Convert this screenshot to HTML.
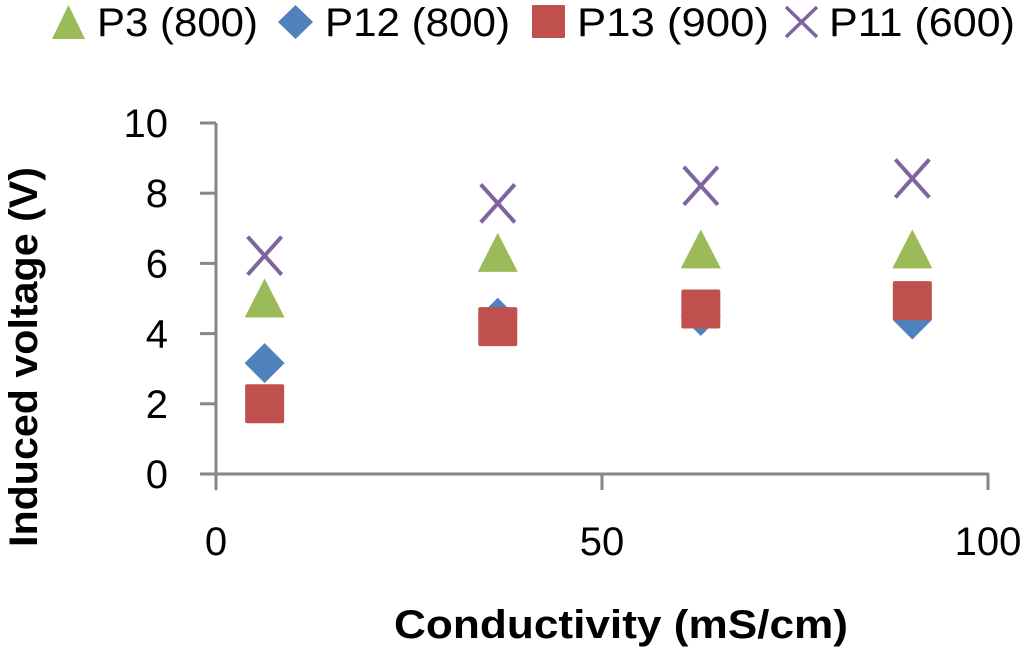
<!DOCTYPE html>
<html><head><meta charset="utf-8"><style>
html,body{margin:0;padding:0;background:#fff;width:1024px;height:652px;overflow:hidden}
svg{display:block;font-family:"Liberation Sans",sans-serif}
</style></head><body>
<svg id="chart" width="1024" height="652" viewBox="0 0 1024 652" xmlns="http://www.w3.org/2000/svg">
<g id="legend">
  <g>
    <polygon points="68.5,5 52,39 85,39" fill="#9bbb59"/>
    <text x="97" y="36" font-size="40" textLength="161" lengthAdjust="spacingAndGlyphs">P3 (800)</text>
  </g>
  <g>
    <polygon points="295.5,5 313,22 295.5,39 278,22" fill="#4f81bd"/>
    <text x="325" y="36" font-size="40" textLength="185" lengthAdjust="spacingAndGlyphs">P12 (800)</text>
  </g>
  <g>
    <rect x="532" y="5" width="33" height="33" rx="1" fill="#c0504d"/>
    <text x="577" y="36" font-size="40" textLength="192" lengthAdjust="spacingAndGlyphs">P13 (900)</text>
  </g>
  <g>
    <path d="M786,7 L817,37 M817,7 L786,37" stroke="#8064a2" stroke-width="3.5"/>
    <text x="829" y="36" font-size="40" textLength="186" lengthAdjust="spacingAndGlyphs">P11 (600)</text>
  </g>
</g>
<g id="axes"></g>
<g id="marks"></g>
<text transform="translate(37,357) rotate(-90)" text-anchor="middle" font-size="40" font-weight="bold" textLength="380" lengthAdjust="spacingAndGlyphs">Induced voltage (V)</text>
<text x="621" y="638" text-anchor="middle" font-size="40" font-weight="bold" textLength="454" lengthAdjust="spacingAndGlyphs">Conductivity (mS/cm)</text>
</svg>
<script>
const xValues = [6.3, 36.5, 62.8, 90.2];
const p3 = [5.0, 6.3, 6.4, 6.4];
const p12 = [3.16, 4.45, 4.5, 4.4];
const p13 = [2.0, 4.2, 4.7, 4.94];
const p11 = [6.22, 7.71, 8.21, 8.42];
const yTicks = [0, 2, 4, 6, 8, 10];
const xTicks = [0, 50, 100];

const NS = "http://www.w3.org/2000/svg";
const X0 = 216, X1 = 988, Y0 = 474, Y1 = 123;
function xs(v){ return X0 + (v - 0) / 100 * (X1 - X0); }
function ys(v){ return Y0 - (v - 0) / 10 * (Y0 - Y1); }
function mk(tag, attrs){ const e = document.createElementNS(NS, tag); for (const k in attrs) e.setAttribute(k, attrs[k]); return e; }
const axes = document.getElementById('axes');
const marks = document.getElementById('marks');
const grey = "#868686";

const yl = mk('line', {x1:X0, y1:Y1, x2:X0, y2:Y0, stroke:grey, 'stroke-width':3});


axes.appendChild(yl);
const xl = mk('line', {x1:X0-16, y1:Y0, x2:X1+1, y2:Y0, stroke:grey, 'stroke-width':3});


axes.appendChild(xl);

yTicks.forEach(t => {
  const y = ys(t);
  const tk = mk('line', {x1:X0-16, y1:y, x2:X0, y2:y, stroke:grey, 'stroke-width':3});
  
  
  axes.appendChild(tk);
  const tx = mk('text', {x:168, y:y+14, 'text-anchor':'end', 'font-size':40});
  tx.textContent = t;
  
  
  axes.appendChild(tx);
});
xTicks.forEach(t => {
  const x = xs(t);
  const tk = mk('line', {x1:x, y1:Y0, x2:x, y2:Y0+16, stroke:grey, 'stroke-width':3});
  
  
  axes.appendChild(tk);
  const tx = mk('text', {x:x, y:555, 'text-anchor':'middle', 'font-size':40});
  tx.textContent = t;
  
  
  axes.appendChild(tx);
});

xValues.forEach((xv, i) => {
  const cx = xs(xv), cy = ys(p3[i]);
  const m = mk('polygon', {points:`${cx},${cy-20} ${cx-20},${cy+19} ${cx+20},${cy+19}`, fill:'#9bbb59'});
  
  
  marks.appendChild(m);
});
xValues.forEach((xv, i) => {
  const cx = xs(xv), cy = ys(p12[i]);
  const m = mk('polygon', {points:`${cx},${cy-20} ${cx+20},${cy} ${cx},${cy+20} ${cx-20},${cy}`, fill:'#4f81bd'});
  
  
  marks.appendChild(m);
});
xValues.forEach((xv, i) => {
  const cx = xs(xv), cy = ys(p13[i]);
  const m = mk('rect', {x:cx-19.5, y:cy-19.5, width:39, height:39, rx:2, fill:'#c0504d'});
  
  
  marks.appendChild(m);
});
xValues.forEach((xv, i) => {
  const cx = xs(xv), cy = ys(p11[i]);
  const m = mk('path', {d:`M${cx-17},${cy-19} L${cx+17},${cy+19} M${cx+17},${cy-19} L${cx-17},${cy+19}`, stroke:'#8064a2', 'stroke-width':4, fill:'none'});
  
  
  marks.appendChild(m);
});
</script>
</body></html>
